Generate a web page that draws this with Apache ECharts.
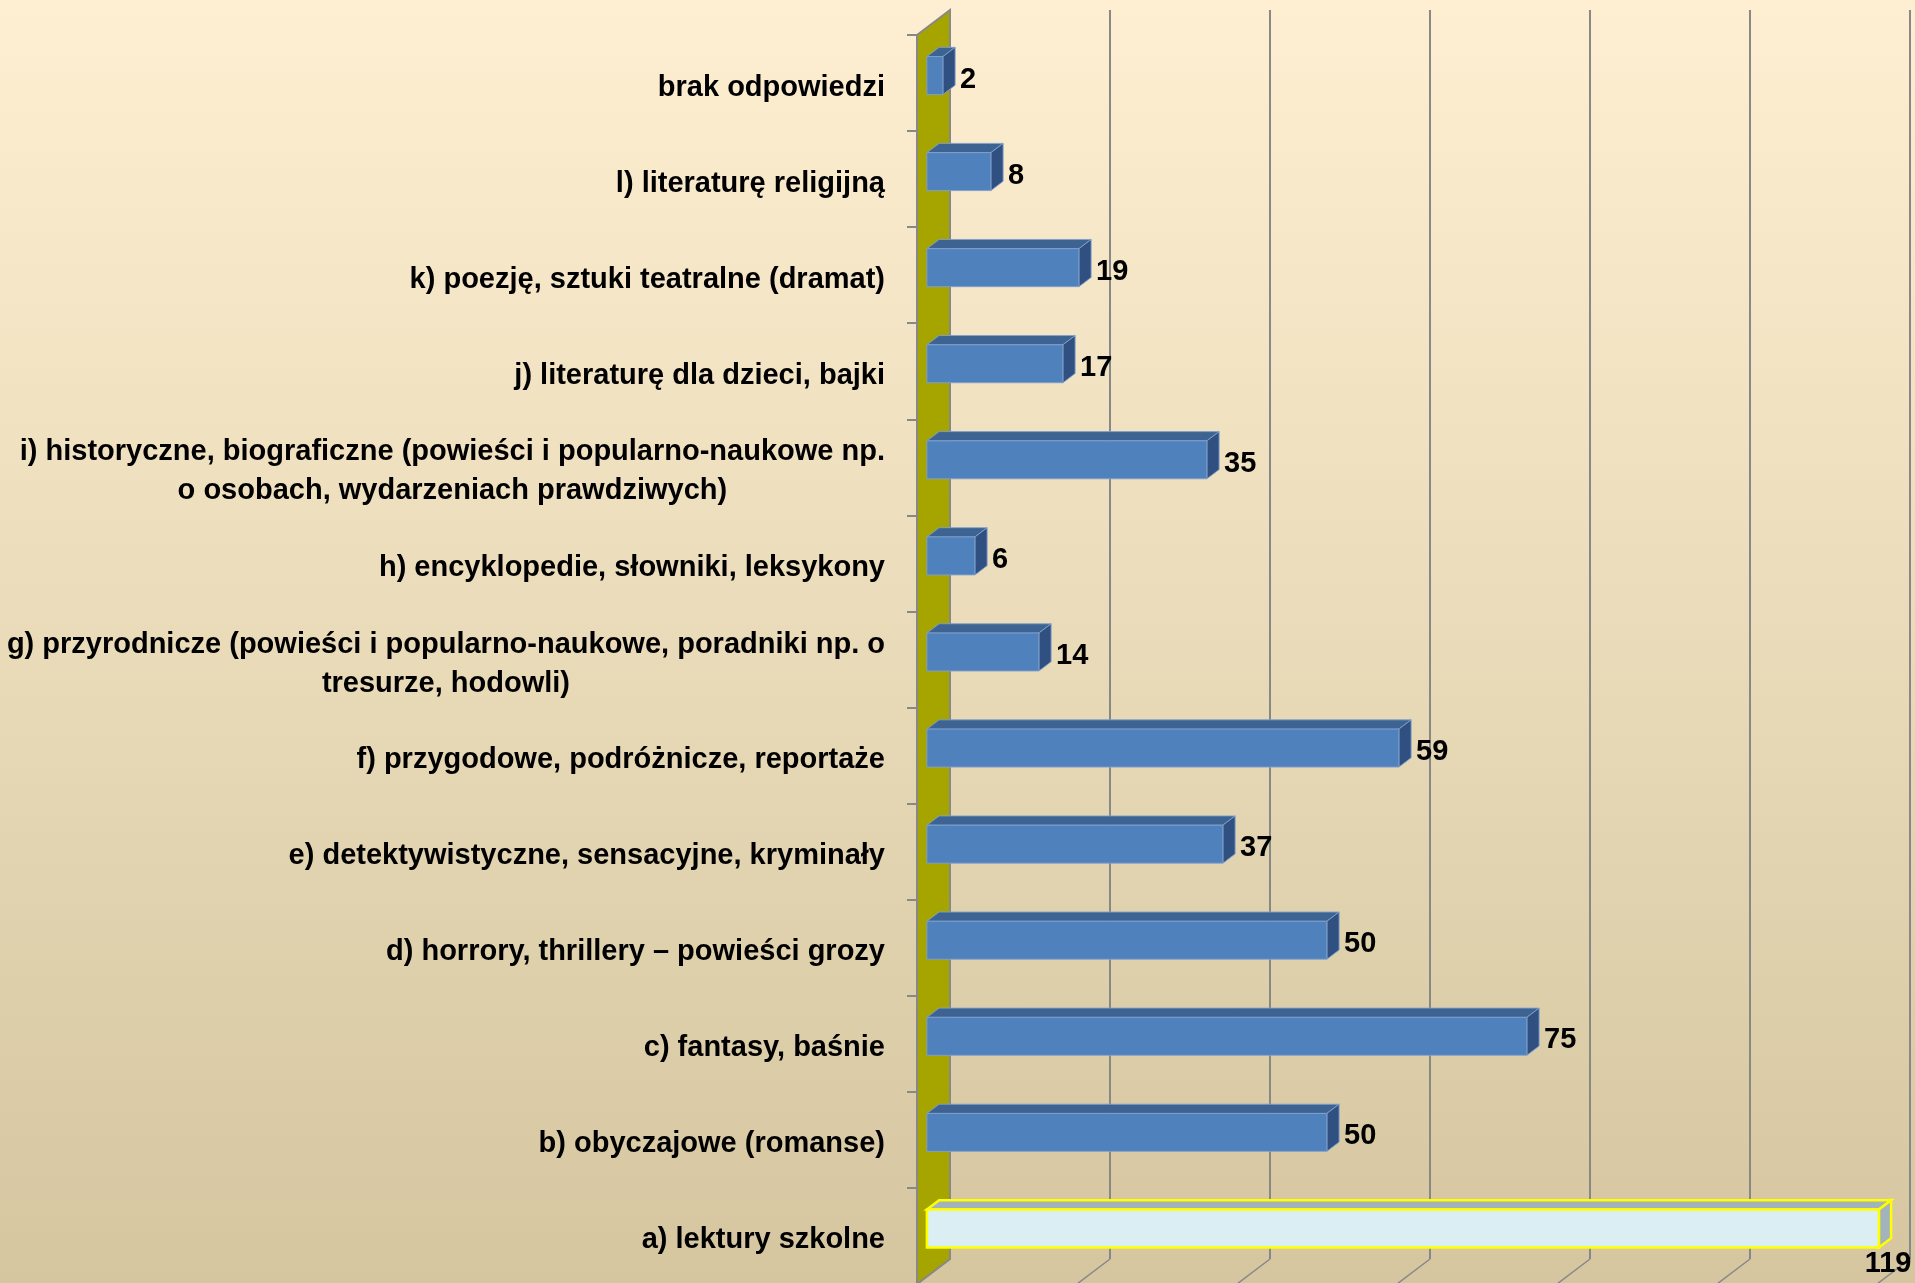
<!DOCTYPE html>
<html>
<head>
<meta charset="utf-8">
<title>Jakie książki czytasz?</title>
<script src="https://cdn.jsdelivr.net/npm/echarts@6.0.0/dist/echarts.min.js"></script>
<style>
	html, body { margin: 0; padding: 0; }
	#chart { width: 1915px; height: 1283px; }
</style>
</head>
<body>
<div id="chart"></div>
<script>
	// kategorie od dołu do góry (oś kategorii rośnie w górę)
	var categories = [
		'a) lektury szkolne',
		'b) obyczajowe (romanse)',
		'c) fantasy, baśnie',
		'd) horrory, thrillery – powieści grozy',
		'e) detektywistyczne, sensacyjne, kryminały',
		'f) przygodowe, podróżnicze, reportaże',
		'g) przyrodnicze (powieści i popularno-naukowe, poradniki np. o\ntresurze, hodowli)',
		'h) encyklopedie, słowniki, leksykony',
		'i) historyczne, biograficzne (powieści i popularno-naukowe np.\no osobach, wydarzeniach prawdziwych)',
		'j) literaturę dla dzieci, bajki',
		'k) poezję, sztuki teatralne (dramat)',
		'l) literaturę religijną',
		'brak odpowiedzi'
	]
	var answers = [119, 50, 75, 50, 37, 59, 14, 6, 35, 17, 19, 8, 2]
	var valueMax = 120
	var valueStep = 20

	// wektor głębokości "3D" (od przedniej do tylnej płaszczyzny)
	var depthX = 33
	var depthY = -25
	var gridColor = '#888888'
	var fontFamily = '"Liberation Sans", Arial, sans-serif'

	var chart = echarts.init(document.getElementById('chart'))

	function renderWall(params, api) {
		var cs = params.coordSys
		var left = cs.x
		var top = cs.y
		var bottom = cs.y + cs.height
		var children = []
		// skośne linie siatki na podłodze
		for (var v = 0; v <= valueMax; v += valueStep) {
			var x = api.coord([v, 0])[0]
			children.push({
				type: 'line',
				shape: { x1: x + depthX, y1: bottom + depthY, x2: x, y2: bottom },
				style: { stroke: gridColor, lineWidth: 1.5 }
			})
		}
		// ściana boczna
		children.push({
			type: 'polygon',
			shape: { points: [[left, top], [left + depthX, top + depthY], [left + depthX, bottom + depthY], [left, bottom]] },
			style: { fill: '#a6a500', stroke: gridColor, lineWidth: 2 }
		})
		return { type: 'group', children: children }
	}

	function renderBar(params, api) {
		var val = api.value(0)
		var cat = api.value(1)
		var start = api.coord([0, cat])
		var end = api.coord([val, cat])
		var band = api.size([0, 1])[1]
		var h = band * 0.395
		var fx = depthX * 0.3, fy = depthY * 0.3		// przód słupka
		var bx = depthX * 0.37, by = depthY * 0.37		// głębokość słupka
		var x0 = start[0] + fx
		var x1 = end[0] + fx
		var yc = start[1] + fy
		var yT = yc - h / 2
		var yB = yc + h / 2

		var top = '#3c6391', side = '#2f5080', front = '#4f81bd', edge = 'rgba(130,160,205,0.9)', lw = 1
		if (val === Math.max.apply(null, answers)) {
			top = '#a3b3bb'; side = '#a3b3bb'; front = '#dbeef4'; edge = '#ffff00'; lw = 2.5
		}

		var txt = String(val)
		var lx = x1 + bx + 5
		var label = {
			type: 'text', x: lx, y: yc + 4,
			style: { text: txt, fill: '#000', fontSize: 29, fontWeight: 'bold', fontFamily: fontFamily, align: 'left', verticalAlign: 'middle' }
		}
		if (lx + txt.length * 17 > api.getWidth()) {
			// brak miejsca z prawej - etykieta pod słupkiem
			label.x = x1 + bx * 0.75
			label.y = yB + 17
			label.style.align = 'center'
		}

		return {
			type: 'group',
			children: [
				{
					type: 'polygon',
					shape: { points: [[x0, yT], [x1, yT], [x1 + bx, yT + by], [x0 + bx, yT + by]] },
					style: { fill: top, stroke: edge, lineWidth: lw }
				},
				{
					type: 'polygon',
					shape: { points: [[x1, yT], [x1 + bx, yT + by], [x1 + bx, yB + by], [x1, yB]] },
					style: { fill: side, stroke: edge, lineWidth: lw }
				},
				{
					type: 'rect',
					shape: { x: x0, y: yT, width: x1 - x0, height: h },
					style: { fill: front, stroke: edge, lineWidth: lw }
				},
				label
			]
		}
	}

	chart.setOption({
		animation: false,
		backgroundColor: {
			type: 'linear', x: 0, y: 0, x2: 0, y2: 1,
			colorStops: [{ offset: 0, color: '#feefd2' }, { offset: 1, color: '#d5c6a0' }]
		},
		grid: [
			// przednia płaszczyzna
			{ left: 917, top: 35, width: 960, height: 1249, outerBoundsMode: 'none' },
			// tylna płaszczyzna (linie siatki)
			{ left: 950, top: 10, width: 960, height: 1249, outerBoundsMode: 'none' }
		],
		xAxis: [
			{ type: 'value', gridIndex: 0, min: 0, max: valueMax, interval: valueStep, show: false },
			{
				type: 'value', gridIndex: 1, min: 0, max: valueMax, interval: valueStep,
				axisLine: { show: false }, axisTick: { show: false }, axisLabel: { show: false },
				splitLine: { show: true, lineStyle: { color: gridColor, width: 2 } }
			}
		],
		yAxis: [
			{
				type: 'category', gridIndex: 0, data: categories,
				axisLine: { show: true, lineStyle: { color: gridColor, width: 2 } },
				axisTick: { show: true, length: 10, lineStyle: { color: gridColor, width: 2 } },
				axisLabel: {
					margin: 32,
					align: 'right',
					padding: [9, 0, 0, 0],
					formatter: function (value) {
						return value.split('\n').map(function (s) { return '{c|' + s + '}' }).join('\n')
					},
					rich: {
						c: { align: 'center', color: '#000', fontSize: 29, fontWeight: 'bold', fontFamily: fontFamily, lineHeight: 39 }
					}
				}
			},
			{ type: 'value', gridIndex: 1, show: false }
		],
		series: [
			{
				type: 'custom',
				xAxisIndex: 0, yAxisIndex: 0,
				renderItem: renderWall,
				data: [[0, 0]],
				z: 1
			},
			{
				type: 'custom',
				xAxisIndex: 0, yAxisIndex: 0,
				renderItem: renderBar,
				encode: { x: 0, y: 1 },
				data: answers.map(function (v, i) { return [v, i] }),
				z: 3
			}
		]
	})
</script>
</body>
</html>
